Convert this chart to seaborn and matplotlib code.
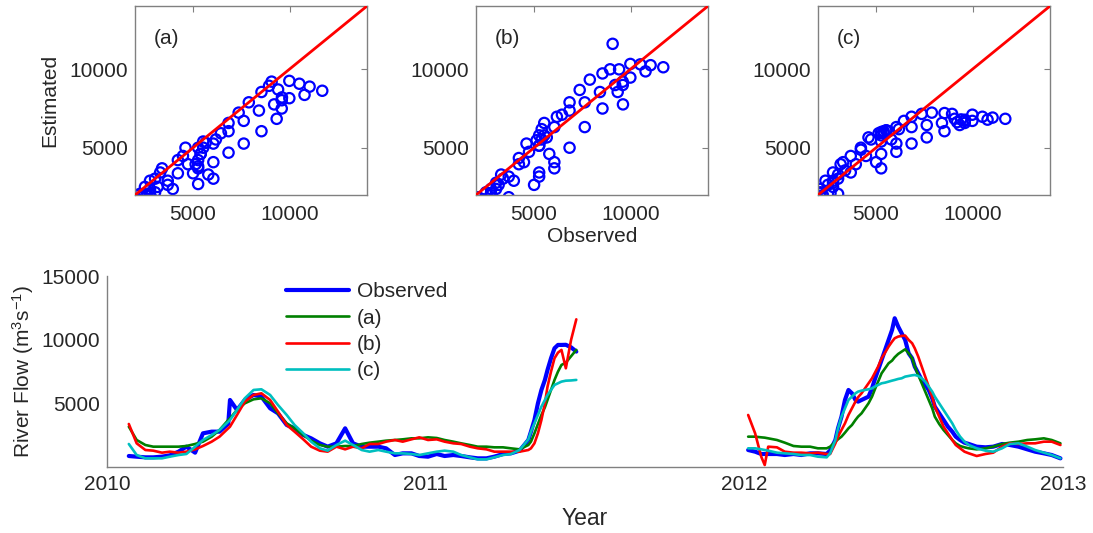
import numpy as np
import pandas as pd
import matplotlib
matplotlib.use("Agg")
import matplotlib.pyplot as plt
import matplotlib.dates as mdates
import seaborn as sns

sns.set_style("white")
plt.rcParams["font.family"] = ["Liberation Sans", "DejaVu Sans"]
plt.rcParams["mathtext.fontset"] = "custom"
plt.rcParams["mathtext.rm"] = "Liberation Sans"
plt.rcParams["mathtext.it"] = "Liberation Sans:italic"
plt.rcParams["mathtext.default"] = "regular"

# ---------------- data ----------------
# segment 1: days since 2010-01-01
days_2010 = [25, 34, 44, 53, 63, 72, 82, 91, 101, 110,
             120, 129, 139, 141, 149, 158, 168, 177, 187, 196,
             206, 215, 225, 234, 244, 253, 263, 273, 282, 292,
             301, 311, 320, 330, 339, 349, 358, 368, 378, 387,
             397, 406, 416, 425, 435, 444, 454, 463, 473, 483,
             486, 490, 494, 498, 502, 505, 509, 513, 517, 521,
             526, 532, 538]
obs_1 = [865, 812, 760, 760, 812, 917, 1205, 1600, 1126, 2646,
         2777, 2777, 3400, 5266, 4480, 5266, 5659, 5528, 4611, 4218,
         3301, 3039, 2515, 2253, 1860, 1598, 1860, 3039, 1860, 1598,
         1598, 1598, 1467, 943, 1074, 1074, 865, 812, 1022, 865,
         943, 865, 760, 681, 681, 812, 1022, 1074, 1284, 2122,
         2777, 3694, 5004, 6052, 6838, 7624, 8541, 9327, 9589, 9589,
         9600, 9400, 9066]
est_a_1 = [3170, 2122, 1729, 1598, 1598, 1598, 1598, 1650, 1808, 1991,
           2384, 2908, 3694, 3825, 4480, 5004, 5318, 5397, 5004, 4218,
           3432, 3039, 2515, 2070, 1729, 1598, 1598, 1650, 1650, 1808,
           1912, 1991, 2070, 2122, 2174, 2253, 2253, 2331, 2279, 2122,
           1991, 1860, 1729, 1598, 1598, 1546, 1546, 1467, 1388, 1729,
           1991, 2646, 3380, 4087, 4690, 5266, 6052, 6838, 7493, 8017,
           8200, 8700, 9200]
est_b_1 = [3380, 1860, 1336, 1284, 1126, 1205, 1126, 1205, 1388, 1650,
           1991, 2384, 3039, 3170, 4087, 5135, 5659, 5790, 5266, 4349,
           3301, 2777, 2174, 1598, 1284, 1205, 1598, 1388, 1598, 1467,
           1808, 1808, 1991, 2122, 1991, 2174, 2331, 2122, 2174, 1991,
           1860, 1808, 1598, 1467, 1388, 1205, 1205, 1205, 1205, 1336,
           1467, 1860, 2646, 3694, 5004, 6314, 7493, 8541, 8986, 9196,
           7755, 9980, 11600]
est_c_1 = [1808, 943, 681, 681, 681, 812, 943, 1022, 1598, 2122,
           2515, 2908, 3563, 3694, 4480, 5397, 6052, 6104, 5659, 4873,
           4087, 3301, 2646, 1991, 1467, 1284, 1729, 2070, 1729, 1336,
           1205, 1336, 1205, 1074, 1074, 1022, 943, 1074, 1205, 1284,
           1205, 943, 760, 602, 602, 760, 943, 1022, 1336, 2174,
           2777, 3432, 4087, 4742, 5266, 5659, 6052, 6445, 6576, 6707,
           6780, 6800, 6840]

# segment 2: days since 2012-01-01
days_2012 = [5, 13, 20, 24, 28, 38, 47, 57, 66, 76, 85, 95,
             99,
             105, 108, 112, 116, 120, 124, 128, 131, 135, 139, 143, 147, 150,
             154, 158, 162, 166, 170, 173,
             177, 181, 185, 189, 193, 196, 200, 204, 208, 212, 216, 219,
             224, 229, 234, 239, 243, 248, 253, 258,
             267, 277, 286, 296, 305, 315, 325, 334, 344, 353, 363]
obs_2 = [1336, 1205, 1022, 1022, 1022, 1022, 943, 1022, 943, 1074, 1074, 1022,
         1300,
         2122, 3039, 3956, 5266, 6052, 5790, 5266, 5135, 5266, 5397, 5528, 6183, 6838,
         7624, 8410, 9196, 9982, 10768, 11685,
         11030, 10500, 9982, 8934, 8541, 7886, 7362, 6838, 6445, 6052, 5397, 4742,
         4218, 3694, 3170, 2777, 2384, 2122, 1912, 1808,
         1598, 1546, 1598, 1808, 1729, 1598, 1388, 1205, 1074, 943, 681]
est_a_2 = [2384, 2384, 2331, 2305, 2253, 2122, 1912, 1650, 1598, 1598, 1467, 1467,
           1598,
           1991, 2174, 2384, 2698, 3039, 3301, 3694, 3956, 4218, 4611, 5004, 5528, 6052,
           6707, 7362, 7755, 8148, 8358, 8620,
           8882, 9065, 9248, 8934, 8541, 7886, 7231, 6576, 5921, 5266, 4611, 3956,
           3380, 2908, 2515, 2122, 1860, 1650, 1546, 1467,
           1388, 1467, 1598, 1808, 1912, 1991, 2122, 2174, 2253, 2122, 1860]
est_b_2 = [4087, 2646, 812, 157, 1598, 1546, 1205, 1126, 1126, 1074, 1126, 1022,
           1022,
           1860, 2384, 2908, 3432, 4087, 4611, 5135, 5476, 5790, 6183, 6576, 6969, 7362,
           7886, 8541, 8986, 9458, 9851, 10113,
           10244, 10296, 10322, 9982, 9720, 9327, 8672, 7886, 7100, 6314, 5528, 4742,
           3956, 3170, 2646, 2122, 1729, 1467, 1205, 1074,
           865, 1022, 1126, 1598, 1860, 1808, 1860, 1860, 1991, 1991, 1729]
est_c_2 = [1467, 1467, 1388, 1336, 1284, 1126, 1074, 1022, 943, 943, 812, 760,
           1074,
           2122, 3039, 3956, 4611, 5266, 5528, 5790, 5921, 5999, 6052, 6104, 6183, 6314,
           6445, 6576, 6628, 6707, 6786, 6838,
           6917, 6969, 7100, 7152, 7205, 7231, 7152, 6969, 6707, 6314, 5921, 5528,
           5004, 4480, 3956, 3432, 2908, 2384, 1991, 1729,
           1467, 1284, 1205, 1467, 1808, 1860, 1598, 1336, 1126, 943, 681]

series_names = ["Observed", "(a)", "(b)", "(c)"]
series_colors = {"Observed": "#0000FF", "(a)": "#008000", "(b)": "#FF0000", "(c)": "#00BFBF"}
series_lw = {"Observed": 3.0, "(a)": 1.9, "(b)": 1.9, "(c)": 1.9}
panel_tags = ["(a)", "(b)", "(c)"]

# ---------------- build tidy frame ----------------
dates_1 = pd.Timestamp("2010-01-01") + pd.to_timedelta(days_2010, unit="D")
dates_2 = pd.Timestamp("2012-01-01") + pd.to_timedelta(days_2012, unit="D")
seg_values = {
    1: {"Observed": obs_1, "(a)": est_a_1, "(b)": est_b_1, "(c)": est_c_1},
    2: {"Observed": obs_2, "(a)": est_a_2, "(b)": est_b_2, "(c)": est_c_2},
}
seg_dates = {1: dates_1, 2: dates_2}
rows = []
for seg in (1, 2):
    for name in series_names:
        for d, v in zip(seg_dates[seg], seg_values[seg][name]):
            rows.append({"date": d, "flow": v, "series": name, "segment": seg})
df = pd.DataFrame(rows)

obs_all = np.array(obs_1 + obs_2)
est_all = {"(a)": np.array(est_a_1 + est_a_2),
           "(b)": np.array(est_b_1 + est_b_2),
           "(c)": np.array(est_c_1 + est_c_2)}

# ---------------- figure ----------------
fig = plt.figure(figsize=(10.93, 5.33), dpi=100)
spine_col = "#808080"

top_lefts = [0.1235, 0.4355, 0.7484]
for left, tag in zip(top_lefts, panel_tags):
    ax = fig.add_axes([left, 0.6341, 0.2123, 0.3546])
    sns.scatterplot(x=obs_all, y=est_all[tag], ax=ax, marker="o", s=55,
                    facecolors="none", edgecolor="#0000FF", linewidth=1.6)
    ax.axline((0, 0), slope=1, color="#FF0000", lw=2.0, zorder=3)
    ax.set_xlim(2000, 14000)
    ax.set_ylim(2000, 14000)
    ax.set_xticks([5000, 10000])
    ax.set_yticks([5000, 10000])
    ax.tick_params(axis="both", direction="in", length=4, color=spine_col,
                   labelsize=15, top=True, right=True)
    ax.tick_params(axis="x", pad=7)
    ax.tick_params(axis="y", pad=5)
    for sp in ax.spines.values():
        sp.set_color(spine_col)
        sp.set_linewidth(1.0)
        sp.set_visible(True)
    ax.text(0.082, 0.83, tag, transform=ax.transAxes, fontsize=15, va="center", ha="left")
    if tag == "(a)":
        ax.set_ylabel("Estimated", fontsize=15, labelpad=7)
    if tag == "(b)":
        ax.set_xlabel("Observed", fontsize=15, labelpad=2)

axb = fig.add_axes([0.0979, 0.1238, 0.8747, 0.3583])
for name in series_names:
    for seg in (1, 2):
        sub = df[(df["series"] == name) & (df["segment"] == seg)]
        sns.lineplot(data=sub, x="date", y="flow", ax=axb, color=series_colors[name],
                     lw=series_lw[name], estimator=None, sort=False,
                     label=name if seg == 1 else None)
axb.set_xlim(pd.Timestamp("2010-01-01"), pd.Timestamp("2013-01-01"))
axb.set_ylim(0, 15000)
axb.set_yticks([5000, 10000, 15000])
axb.xaxis.set_major_locator(mdates.YearLocator())
axb.xaxis.set_major_formatter(mdates.DateFormatter("%Y"))
axb.tick_params(axis="both", direction="in", length=4, color=spine_col, labelsize=15)
axb.tick_params(axis="x", pad=6)
axb.tick_params(axis="y", pad=5)
for side in ("top", "right"):
    axb.spines[side].set_visible(False)
for side in ("left", "bottom"):
    axb.spines[side].set_visible(True)
    axb.spines[side].set_color(spine_col)
    axb.spines[side].set_linewidth(1.0)
axb.set_xlabel("Year", fontsize=16.5, labelpad=9)
axb.set_ylabel(r"River Flow (m$^{3}$s$^{-1}$)", fontsize=15, labelpad=4)
axb.legend(loc="upper left", bbox_to_anchor=(0.181, 1.0), frameon=False, fontsize=15,
           handlelength=3.0, handletextpad=0.4, labelspacing=0.35,
           borderaxespad=0, borderpad=0.3)

fig.savefig("out.png", dpi=100)
